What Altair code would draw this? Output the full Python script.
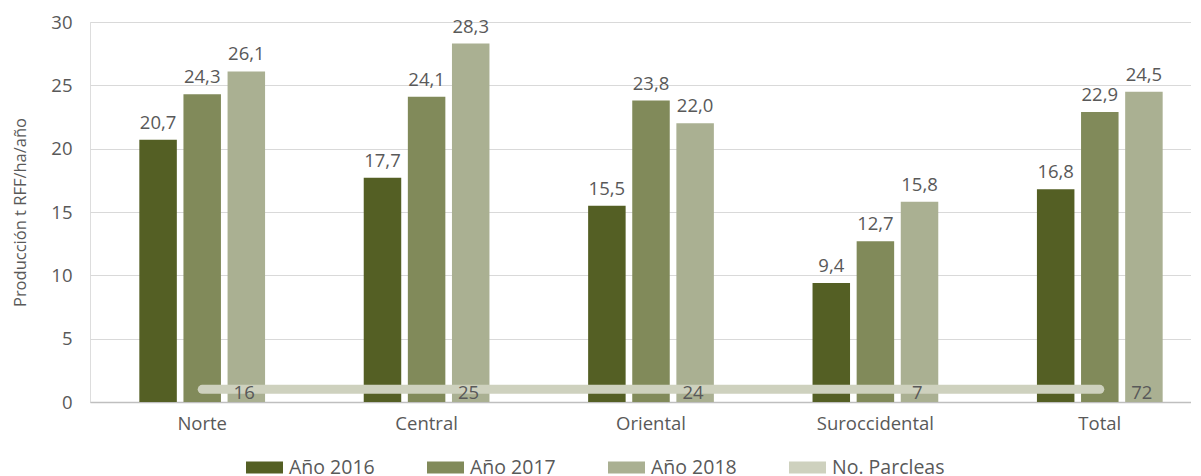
import altair as alt
import pandas as pd

regiones = ["Norte", "Central", "Oriental", "Suroccidental", "Total"]
anios = ["Año 2016", "Año 2017", "Año 2018"]
prod_2016 = [20.7, 17.7, 15.5, 9.4, 16.8]
prod_2017 = [24.3, 24.1, 23.8, 12.7, 22.9]
prod_2018 = [26.1, 28.3, 22.0, 15.8, 24.5]
parcelas = [16, 25, 24, 7, 72]
nivel_linea = 1  # level at which the "No. Parcleas" line is drawn
serie_linea = "No. Parcleas"

colores = ["#545f24", "#818a5a", "#aab092", "#ced1be"]
FONT = "Open Sans"
GRIS = "#595959"
FS = 18.5

rows = []
for anio, vals in zip(anios, [prod_2016, prod_2017, prod_2018]):
    for r, v in zip(regiones, vals):
        rows.append({"region": r, "serie": anio, "valor": v,
                     "etiqueta": f"{v:.1f}".replace(".", ",")})
bars_df = pd.DataFrame(rows)
line_df = pd.DataFrame({"region": regiones, "parcelas": parcelas,
                        "nivel": [nivel_linea] * len(regiones),
                        "serie": [serie_linea] * len(regiones)})

xscale = alt.Scale(domain=regiones, paddingInner=0.42, paddingOuter=0.21)
color_scale = alt.Scale(domain=anios + [serie_linea], range=colores)
yscale = alt.Scale(domain=[0, 30])

x_enc = alt.X("region:N", scale=xscale, sort=regiones,
              axis=alt.Axis(title=None, labelAngle=0, ticks=False, labelPadding=12,
                            labelFontSize=FS, labelColor=GRIS, labelFont=FONT,
                            domainColor="#bfbfbf", domainWidth=1.5))
xoff = alt.XOffset("serie:N", sort=anios,
                   scale=alt.Scale(domain=anios, paddingInner=0.15, paddingOuter=0.05))

bars = alt.Chart(bars_df).mark_bar().encode(
    x=x_enc,
    xOffset=xoff,
    y=alt.Y("valor:Q", scale=yscale,
            axis=alt.Axis(title="Producción t RFF/ha/año", values=[0, 5, 10, 15, 20, 25, 30],
                          ticks=False, domain=False, labelPadding=18, labelFontSize=FS,
                          labelColor=GRIS, labelFont=FONT, titleFont=FONT, titleFontSize=16.5,
                          titleColor=GRIS, titleFontWeight="normal", titlePadding=22,
                          gridColor="#d9d9d9", gridWidth=1.2)),
    color=alt.Color("serie:N", scale=color_scale,
                    legend=alt.Legend(title=None, orient="none", direction="horizontal",
                                      legendX=156, legendY=427,
                                      symbolType="M-1,-0.32H1V0.32H-1Z", symbolSize=1369,
                                      symbolStrokeWidth=0, labelFontSize=19.5, labelFont=FONT,
                                      labelColor=GRIS, labelOffset=6, columnPadding=25,
                                      gridAlign="all")),
)

bar_text = alt.Chart(bars_df).mark_text(baseline="bottom", dy=-7, fontSize=FS,
                                        font=FONT, color=GRIS).encode(
    x=alt.X("region:N", scale=xscale, sort=regiones),
    xOffset=xoff,
    y=alt.Y("valor:Q", scale=yscale),
    text="etiqueta:N",
)

line = alt.Chart(line_df).mark_line(strokeWidth=9, strokeCap="round").encode(
    x=alt.X("region:N", scale=xscale, sort=regiones),
    y=alt.Y("nivel:Q", scale=yscale),
    color=alt.Color("serie:N", scale=color_scale),
)

line_text = alt.Chart(line_df).mark_text(baseline="middle", align="center", dx=42, dy=4,
                                         fontSize=FS, font=FONT, color=GRIS).encode(
    x=alt.X("region:N", scale=xscale, sort=regiones),
    y=alt.Y("nivel:Q", scale=yscale),
    text="parcelas:Q",
)

chart = alt.layer(bars, bar_text, line, line_text).properties(
    width=1122, height=380, padding={"left": 4, "top": 5, "right": -21, "bottom": 0}
).configure_view(stroke=None).configure(font=FONT)

chart.save("out.html", embed_options={"renderer": "svg", "actions": False})
